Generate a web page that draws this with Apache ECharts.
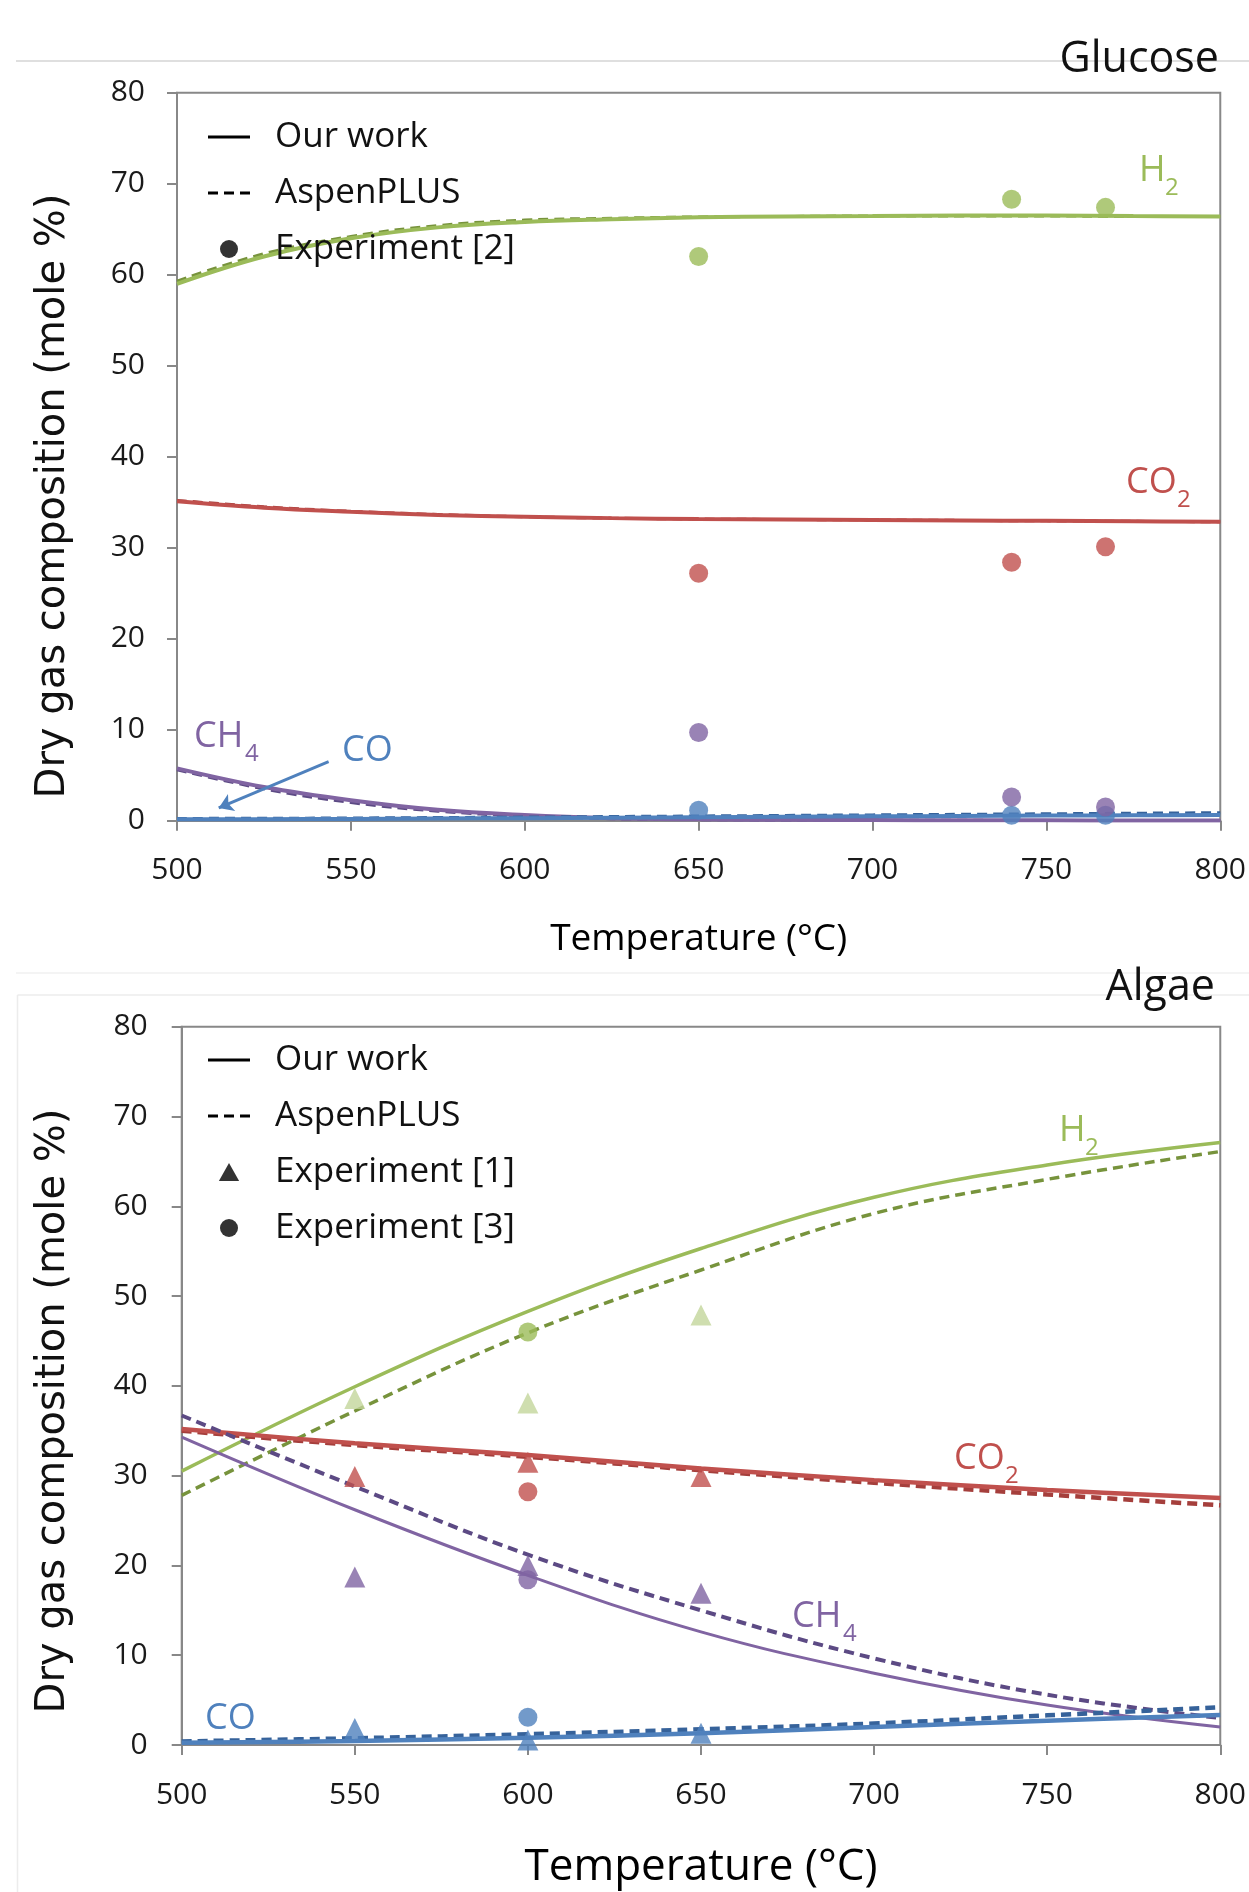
<!DOCTYPE html>
<html>
<head>
<meta charset="utf-8">
<script src="https://cdn.jsdelivr.net/npm/echarts@6/dist/echarts.min.js"></script>
<style>
  html, body { margin: 0; padding: 0; background: #fff; }
  #main { width: 1249px; height: 1892px; }
</style>
</head>
<body>
<div id="main"></div>
<script>
// 葡萄糖 (Glucose) - 模型曲线
const tempsG = [500, 525, 550, 575, 600, 625, 650, 675, 700, 725, 750, 775, 800];
const h2OursG = [59.0, 62.0, 64.0, 65.2, 65.8, 66.1, 66.3, 66.4, 66.45, 66.5, 66.5, 66.45, 66.4];
const h2AspenG = [59.3, 62.3, 64.2, 65.4, 66.0, 66.2, 66.35, 66.4, 66.45, 66.45, 66.45, 66.4, 66.4];
const co2OursG = [35.1, 34.4, 33.95, 33.6, 33.4, 33.25, 33.15, 33.1, 33.05, 33.0, 32.95, 32.9, 32.85];
const co2AspenG = [35.2, 34.5, 34.0, 33.65, 33.4, 33.25, 33.15, 33.1, 33.05, 33.0, 32.95, 32.9, 32.85];
const ch4OursG = [5.75, 3.7, 2.25, 1.2, 0.62, 0.28, 0.15, 0.1, 0.07, 0.05, 0.04, 0.03, 0.03];
const ch4AspenG = [5.6, 3.5, 2.0, 1.05, 0.5, 0.22, 0.12, 0.08, 0.05, 0.04, 0.03, 0.03, 0.02];
const coOursG = [0.15, 0.17, 0.2, 0.24, 0.28, 0.33, 0.38, 0.43, 0.48, 0.52, 0.56, 0.6, 0.63];
const coAspenG = [0.25, 0.27, 0.3, 0.35, 0.4, 0.46, 0.52, 0.58, 0.64, 0.7, 0.76, 0.82, 0.88];
// 葡萄糖 - 实验 [2]
const expTempsG = [650, 740, 767];
const h2ExpG = [62.0, 68.3, 67.4];
const co2ExpG = [27.2, 28.4, 30.1];
const ch4ExpG = [9.7, 2.6, 1.5];
const coExpG = [1.15, 0.6, 0.6];

// 藻类 (Algae) - 模型曲线
const tempsA = [500, 550, 600, 650, 700, 750, 800];
const h2OursA = [30.5, 39.9, 48.3, 55.3, 61.0, 64.6, 67.1];
const h2AspenA = [27.8, 37.2, 45.9, 52.9, 59.2, 63.0, 66.1];
const co2OursA = [35.2, 33.6, 32.3, 30.8, 29.5, 28.4, 27.5];
const co2AspenA = [35.0, 33.4, 32.1, 30.6, 29.2, 27.9, 26.7];
const ch4OursA = [34.3, 26.2, 18.9, 12.6, 8.0, 4.45, 2.0];
const ch4AspenA = [36.7, 28.8, 21.2, 15.0, 9.65, 5.6, 3.0];
const coOursA = [0.25, 0.45, 0.8, 1.3, 2.0, 2.7, 3.35];
const coAspenA = [0.4, 0.75, 1.2, 1.75, 2.4, 3.3, 4.2];
// 藻类 - 实验 [1] / [3]
const exp1TempsA = [550, 600, 650];
const h2Exp1A = [38.6, 38.1, 47.9];
const co2Exp1A = [29.9, 31.5, 29.9];
const ch4Exp1A = [18.7, 20.0, 16.9];
const coExp1A = [1.85, 0.55, 1.3];
const exp3TempsA = [600];
const h2Exp3A = [46.0];
const co2Exp3A = [28.2];
const ch4Exp3A = [18.4];
const coExp3A = [3.1];

// 坐标轴范围
const xMin = 500, xMax = 800, xStep = 50;
const yMin = 0, yMax = 80, yStep = 10;

const FONT = "'Open Sans', 'Noto Sans', sans-serif";
const GREEN = '#9bbb59', GREEN_D = '#77933c', GREEN_L = '#c3d69b';
const RED = '#c0504d', RED_D = '#a53f3c';
const PURPLE = '#8064a2', PURPLE_D = '#5c4a84';
const BLUE = '#4f81bd', BLUE_D = '#36629a';
const AXIS = '#888888';

const zip = (xs, ys) => xs.map((x, i) => [x, ys[i]]);

function curve(idx, xs, ys, color, dashed, width) {
  return {
    type: 'line', xAxisIndex: idx, yAxisIndex: idx,
    data: zip(xs, ys), smooth: 0.4,
    symbol: 'none', silent: true, z: 2,
    lineStyle: { color: color, width: width, type: dashed ? [10, 6] : 'solid' }
  };
}

function points(idx, xs, ys, color, symbol, size) {
  return {
    type: 'scatter', xAxisIndex: idx, yAxisIndex: idx,
    data: zip(xs, ys), symbol: symbol, symbolSize: size,
    silent: true, z: 4, itemStyle: { color: color }
  };
}

function xAx(idx, nameSize, nameGap) {
  return {
    type: 'value', gridIndex: idx, min: xMin, max: xMax, interval: xStep,
    name: 'Temperature (°C)', nameLocation: 'middle', nameGap: nameGap,
    nameTextStyle: { fontFamily: FONT, fontSize: nameSize, color: '#000' },
    axisLine: { lineStyle: { color: AXIS, width: 2 } },
    axisTick: { show: true, length: 10, lineStyle: { color: AXIS, width: 2 } },
    axisLabel: { fontFamily: FONT, fontSize: 30, color: '#1a1a1a', margin: 35 },
    splitLine: { show: false }
  };
}

function yAx(idx, margin) {
  return {
    type: 'value', gridIndex: idx, min: yMin, max: yMax, interval: yStep,
    axisLine: { show: true, lineStyle: { color: AXIS, width: 2 } },
    axisTick: { show: true, length: 10, lineStyle: { color: AXIS, width: 2 } },
    axisLabel: { fontFamily: FONT, fontSize: 30, color: '#1a1a1a', margin: margin },
    splitLine: { show: false }
  };
}

// 带下标的标注文字
function subLabel(x, y, main, sub, color, subDx) {
  return {
    type: 'group', children: [
      { type: 'text', x: x, y: y, style: { text: main, fill: color, font: '36px ' + FONT, textVerticalAlign: 'middle' } },
      { type: 'text', x: x + subDx, y: y + 17, style: { text: sub, fill: color, font: '24px ' + FONT, textVerticalAlign: 'middle' } }
    ]
  };
}

// 图例图标
const ICON_SOLID = 'path://M0,0h42v3h-42z';
const ICON_DASH = 'path://M0,0h10v3h-10z M16,0h10v3h-10z M32,0h10v3h-10z';
const ICON_TRI = 'path://M9,0L18,16H0z';

function legendCfg(top, names) {
  return {
    orient: 'vertical', left: 208, top: top, padding: 0,
    itemWidth: 42, itemHeight: 18, itemGap: 16, selectedMode: false,
    symbolKeepAspect: true,
    textStyle: { fontFamily: FONT, fontSize: 35, color: '#111', lineHeight: 40, padding: [0, 0, 0, 20] },
    data: names
  };
}

const chart = echarts.init(document.getElementById('main'), null, { renderer: 'canvas' });

const series = [
  // 图例用的占位系列
  { name: 'Our work', type: 'line', data: [], symbol: 'none', color: '#000', lineStyle: { color: '#000', width: 3 } },
  { name: 'AspenPLUS', type: 'line', data: [], symbol: 'none', color: '#000', lineStyle: { color: '#000', width: 3, type: [9, 5] } },
  { name: 'Experiment [2]', type: 'scatter', data: [], symbol: 'circle', color: '#000' },
  { name: 'Experiment [1]', type: 'scatter', data: [], symbol: 'triangle', color: '#000' },
  { name: 'Experiment [3]', type: 'scatter', data: [], symbol: 'circle', color: '#000' },

  // Glucose
  curve(0, tempsG, h2AspenG, GREEN_D, true, 3),
  curve(0, tempsG, h2OursG, GREEN, false, 4),
  curve(0, tempsG, co2AspenG, RED_D, true, 3),
  curve(0, tempsG, co2OursG, RED, false, 4),
  curve(0, tempsG, ch4AspenG, PURPLE_D, true, 3),
  curve(0, tempsG, ch4OursG, PURPLE, false, 4),
  curve(0, tempsG, coAspenG, BLUE_D, true, 3),
  Object.assign(curve(0, tempsG, coOursG, BLUE, false, 4), {
    markLine: {
      silent: true, symbol: ['none', 'arrow'], symbolSize: 14,
      label: { show: false },
      lineStyle: { color: BLUE, width: 3, type: 'solid' },
      data: [[{ coord: [543.6, 6.5] }, { coord: [512, 1.4] }]]
    }
  }),
  points(0, expTempsG, coExpG, BLUE, 'circle', 19),
  points(0, expTempsG, h2ExpG, GREEN, 'circle', 19),
  points(0, expTempsG, co2ExpG, RED, 'circle', 19),
  points(0, expTempsG, ch4ExpG, PURPLE, 'circle', 19),

  // Algae
  curve(1, tempsA, h2AspenA, GREEN_D, true, 3.5),
  curve(1, tempsA, h2OursA, GREEN, false, 3.5),
  curve(1, tempsA, co2AspenA, RED_D, true, 4.5),
  curve(1, tempsA, co2OursA, RED, false, 4.5),
  curve(1, tempsA, ch4AspenA, PURPLE_D, true, 4),
  curve(1, tempsA, ch4OursA, PURPLE, false, 3),
  curve(1, tempsA, coAspenA, BLUE_D, true, 4.5),
  curve(1, tempsA, coOursA, BLUE, false, 4.5),
  points(1, exp1TempsA, h2Exp1A, GREEN_L, 'triangle', 21),
  points(1, exp1TempsA, co2Exp1A, RED, 'triangle', 21),
  points(1, exp1TempsA, ch4Exp1A, PURPLE, 'triangle', 21),
  points(1, exp1TempsA, coExp1A, BLUE, 'triangle', 21),
  points(1, exp3TempsA, h2Exp3A, GREEN, 'circle', 19),
  points(1, exp3TempsA, co2Exp3A, RED, 'circle', 19),
  points(1, exp3TempsA, ch4Exp3A, PURPLE, 'circle', 19),
  points(1, exp3TempsA, coExp3A, BLUE, 'circle', 19)
];

const option = {
  backgroundColor: '#fff',
  animation: false,
  grid: [
    { left: 177, top: 92.7, width: 1044.5, height: 728, show: true, borderColor: AXIS, borderWidth: 2, backgroundColor: 'transparent' },
    { left: 181.7, top: 1026.7, width: 1042.3, height: 718.3, show: true, borderColor: AXIS, borderWidth: 2, backgroundColor: 'transparent' }
  ],
  xAxis: [xAx(0, 37, 100), xAx(1, 44, 100)],
  yAxis: [yAx(0, 32), yAx(1, 34)],
  legend: [
    legendCfg(117, [
      { name: 'Our work', icon: ICON_SOLID },
      { name: 'AspenPLUS', icon: ICON_DASH },
      { name: 'Experiment [2]', icon: 'circle' }
    ]),
    legendCfg(1040, [
      { name: 'Our work', icon: ICON_SOLID },
      { name: 'AspenPLUS', icon: ICON_DASH },
      { name: 'Experiment [1]', icon: ICON_TRI },
      { name: 'Experiment [3]', icon: 'circle' }
    ])
  ],
  series: series,
  graphic: [
    // 面板边框线
    { type: 'line', shape: { x1: 16, y1: 61, x2: 1249, y2: 61 }, style: { stroke: '#d4d4d4', lineWidth: 1.5 } },
    { type: 'line', shape: { x1: 16, y1: 973, x2: 1249, y2: 973 }, style: { stroke: '#f0f0f0', lineWidth: 1.5 } },
    { type: 'line', shape: { x1: 17.5, y1: 995, x2: 1249, y2: 995 }, style: { stroke: '#ececec', lineWidth: 1.5 } },
    { type: 'line', shape: { x1: 17.5, y1: 995, x2: 17.5, y2: 1892 }, style: { stroke: '#ececec', lineWidth: 1.5 } },
    // 标题
    { type: 'text', x: 1219, y: 60, style: { text: 'Glucose', fill: '#111', font: '43px ' + FONT, textAlign: 'right', textVerticalAlign: 'middle' } },
    { type: 'text', x: 1215, y: 988, style: { text: 'Algae', fill: '#111', font: '43px ' + FONT, textAlign: 'right', textVerticalAlign: 'middle' } },
    // y 轴标题
    { type: 'text', x: 54, y: 496, rotation: Math.PI / 2, style: { text: 'Dry gas composition (mole %)', fill: '#111', font: '40px "DejaVu Sans", sans-serif', textAlign: 'center', textVerticalAlign: 'middle' } },
    { type: 'text', x: 54, y: 1411, rotation: Math.PI / 2, style: { text: 'Dry gas composition (mole %)', fill: '#111', font: '40px "DejaVu Sans", sans-serif', textAlign: 'center', textVerticalAlign: 'middle' } },
    // Glucose 标注
    subLabel(1139, 171, 'H', '2', GREEN, 26),
    subLabel(1126, 483, 'CO', '2', RED, 51),
    subLabel(194, 737, 'CH', '4', PURPLE, 51),
    { type: 'text', x: 342, y: 751, style: { text: 'CO', fill: BLUE, font: '36px ' + FONT, textVerticalAlign: 'middle' } },
    // Algae 标注
    subLabel(1059, 1131, 'H', '2', GREEN, 26),
    subLabel(954, 1459, 'CO', '2', RED, 51),
    subLabel(792, 1617, 'CH', '4', PURPLE, 51),
    { type: 'text', x: 205, y: 1719, style: { text: 'CO', fill: BLUE, font: '36px ' + FONT, textVerticalAlign: 'middle' } }
  ]
};

chart.setOption(option);
</script>
</body>
</html>
